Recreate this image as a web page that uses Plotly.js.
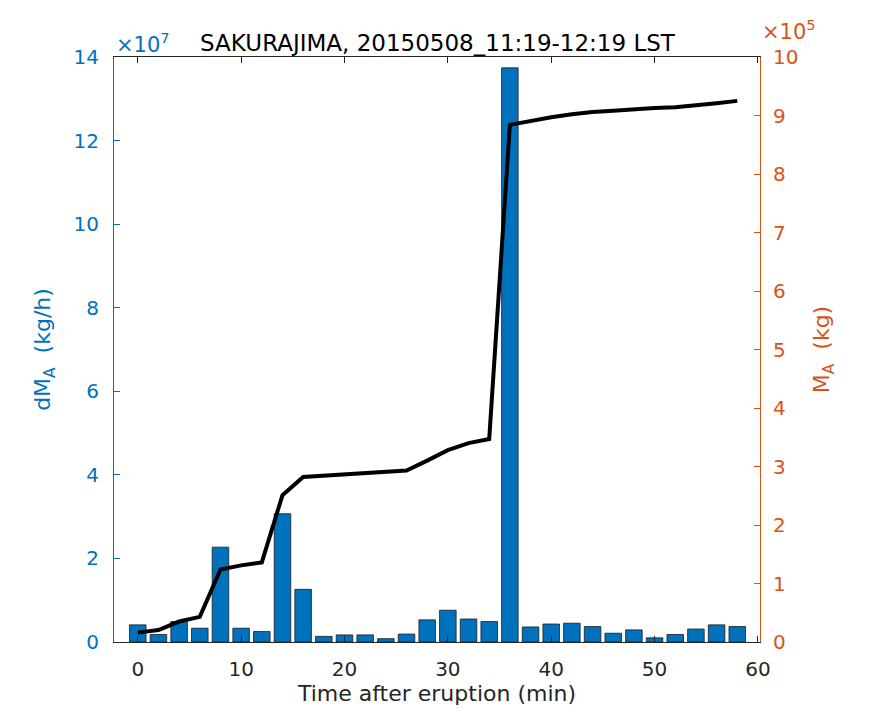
<!DOCTYPE html>
<html>
<head>
<meta charset="utf-8">
<script src="https://cdn.plot.ly/plotly-3.0.1.min.js"></script>
<style>
  body { margin: 0; background: #fff; }
  #chart { width: 875px; height: 723px; }
</style>
</head>
<body>
<div id="chart"></div>
<script>
// time after eruption (min)
var minutes = [0, 2, 4, 6, 8, 10, 12, 14, 16, 18, 20, 22, 24, 26, 28,
               30, 32, 34, 36, 38, 40, 42, 44, 46, 48, 50, 52, 54, 56, 58];

// dM_A (x1e7 kg/h)
var dMA = [0.41, 0.18, 0.49, 0.33, 2.27, 0.33, 0.25, 3.07, 1.26, 0.135, 0.17, 0.17, 0.08, 0.19, 0.53,
           0.76, 0.55, 0.49, 13.74, 0.36, 0.43, 0.45, 0.37, 0.21, 0.29, 0.10, 0.18, 0.31, 0.41, 0.37];

// M_A (x1e5 kg), cumulative line
var MA = [0.16, 0.205, 0.35, 0.43, 1.24, 1.31, 1.36, 2.51, 2.82, 2.84, 2.87, 2.89, 2.91, 2.93, 3.10,
          3.28, 3.40, 3.47, 8.84, 8.91, 8.97, 9.02, 9.06, 9.08, 9.11, 9.13, 9.14, 9.17, 9.21, 9.25];

var blue = "#0072BD";
var orange = "#D95319";
var font = "DejaVu Sans, sans-serif";

var bars = {
    x: minutes,
    y: dMA,
    type: "bar",
    marker: { color: blue, line: { color: "#1a1a1a", width: 0.8 } },
    yaxis: "y"
};

var line = {
    x: minutes,
    y: MA,
    type: "scatter",
    mode: "lines",
    line: { color: "#000000", width: 4 },
    yaxis: "y2"
};

var layout = {
    width: 875,
    height: 723,
    margin: { l: 114, r: 115, t: 57, b: 81 },
    paper_bgcolor: "#ffffff",
    plot_bgcolor: "#ffffff",
    showlegend: false,
    bargap: 0.2,
    font: { family: font, size: 20, color: "#262626" },
    title: {
        text: "SAKURAJIMA, 20150508_11:19-12:19 LST",
        font: { family: font, size: 23, color: "#000000" },
        x: 0.5, xanchor: "center",
        y: 1 - 43 / 723, yanchor: "middle"
    },
    xaxis: {
        range: [-2.3, 60.2],
        tickvals: [0, 10, 20, 30, 40, 50, 60],
        ticks: "inside",
        ticklen: 6,
        tickcolor: "#262626",
        ticklabelstandoff: 9,
        showline: true,
        linecolor: "#262626",
        linewidth: 1,
        mirror: "ticks",
        showgrid: false,
        zeroline: false,
        tickfont: { family: font, size: 20, color: "#262626" },
        title: { text: "Time after eruption (min)", font: { family: font, size: 22, color: "#262626" }, standoff: 2 }
    },
    yaxis: {
        range: [0, 14],
        dtick: 2,
        ticks: "inside",
        ticklen: 6,
        tickcolor: blue,
        ticklabelstandoff: 10,
        showline: true,
        linecolor: blue,
        linewidth: 1,
        showgrid: false,
        zeroline: false,
        tickfont: { family: font, size: 20, color: blue },
        title: { text: "dM<sub>A</sub>  (kg/h)", font: { family: font, size: 22, color: blue }, standoff: 16 }
    },
    yaxis2: {
        range: [0, 10],
        dtick: 1,
        overlaying: "y",
        side: "right",
        ticks: "inside",
        ticklen: 6,
        tickcolor: orange,
        ticklabelstandoff: 8,
        showline: true,
        linecolor: orange,
        linewidth: 1,
        showgrid: false,
        zeroline: false,
        tickfont: { family: font, size: 20, color: orange },
        title: { text: "M<sub>A</sub>  (kg)", font: { family: font, size: 22, color: orange }, standoff: 16 }
    },
    annotations: [
        { text: "×10<sup>7</sup>", xref: "paper", yref: "paper", x: 0, y: 1, xanchor: "left", yanchor: "bottom",
          yshift: -2, showarrow: false, font: { family: font, size: 21, color: blue } },
        { text: "×10<sup>5</sup>", xref: "paper", yref: "paper", x: 1, y: 1, xanchor: "left", yanchor: "bottom",
          yshift: 11, showarrow: false, font: { family: font, size: 21, color: orange } }
    ]
};

Plotly.newPlot("chart", [bars, line], layout, { displayModeBar: false, staticPlot: true });
</script>
</body>
</html>
